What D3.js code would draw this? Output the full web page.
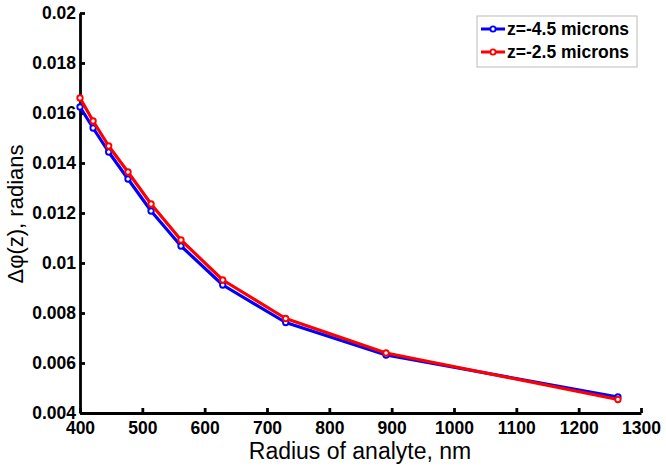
<!DOCTYPE html>
<html><head><meta charset="utf-8">
<script src="https://cdn.jsdelivr.net/npm/d3@7/dist/d3.min.js"></script>
<style>body{margin:0;background:#fff}svg{display:block;font-family:"Liberation Sans",Arial,sans-serif}</style>
</head><body><svg id="c" width="666" height="466"></svg>
<script>
const radius = [400, 421, 446, 477, 514, 562, 629, 730, 891, 1263];
const seriesA = [0.01624, 0.0154, 0.01444, 0.01336, 0.01208, 0.01068, 0.00912, 0.00762, 0.00632, 0.00464];
const seriesB = [0.0166, 0.01568, 0.01468, 0.01364, 0.01236, 0.01092, 0.00932, 0.00778, 0.0064, 0.00454];
const seriesNames = ["z=-4.5 microns", "z=-2.5 microns"];
const seriesColors = ["#0000ff", "#ff0000"];
const xTicks = [400, 500, 600, 700, 800, 900, 1000, 1100, 1200, 1300];
const yTicks = [0.004, 0.006, 0.008, 0.01, 0.012, 0.014, 0.016, 0.018, 0.02];

const svg = d3.select("#c");
const x = d3.scaleLinear().domain([400, 1300]).range([80, 641]);
const y = d3.scaleLinear().domain([0.004, 0.02]).range([413, 13]);

const xAxis = svg.append("g").attr("transform", "translate(0,413)")
  .call(d3.axisBottom(x).tickValues(xTicks).tickSizeInner(-5).tickSizeOuter(0).tickPadding(9).tickFormat(d3.format("d")));
const yAxis = svg.append("g").attr("transform", "translate(80,0)")
  .call(d3.axisLeft(y).tickValues(yTicks).tickSizeInner(-5).tickSizeOuter(0).tickPadding(4).tickFormat(d => String(+d.toFixed(3))));
[xAxis, yAxis].forEach(g => {
  g.select(".domain").attr("stroke", "#000").attr("stroke-width", 2.8);
  g.selectAll(".tick line").attr("stroke", "#000").attr("stroke-width", 2.8);
  g.selectAll(".tick text").attr("fill", "#000").attr("font-size", 17.5).attr("font-weight", "bold")
    .attr("font-family", '"Liberation Sans",Arial,sans-serif');
});
yAxis.selectAll(".tick text").attr("dy", "0.34em");

const data = [seriesA, seriesB];
const line = d3.line().x((d, i) => x(radius[i])).y(d => y(d));
data.forEach((s, k) => {
  svg.append("path").datum(s).attr("d", line).attr("fill", "none")
    .attr("stroke", seriesColors[k]).attr("stroke-width", 3.2).attr("stroke-linejoin", "round");
  svg.append("g").selectAll("circle").data(s).join("circle")
    .attr("cx", (d, i) => x(radius[i])).attr("cy", d => y(d)).attr("r", 2.7)
    .attr("fill", "#fff").attr("stroke", seriesColors[k]).attr("stroke-width", 1.9);
});

// legend
const lg = svg.append("g");
lg.append("rect").attr("x", 477).attr("y", 16).attr("width", 160).attr("height", 51)
  .attr("fill", "#fff").attr("stroke", "#bbb").attr("stroke-width", 1);
seriesNames.forEach((n, k) => {
  const yy = 29 + k * 23;
  lg.append("line").attr("x1", 481).attr("x2", 505).attr("y1", yy).attr("y2", yy)
    .attr("stroke", seriesColors[k]).attr("stroke-width", 3);
  lg.append("circle").attr("cx", 493).attr("cy", yy).attr("r", 2.6).attr("fill", "#fff")
    .attr("stroke", seriesColors[k]).attr("stroke-width", 1.8);
  lg.append("text").attr("x", 507).attr("y", yy).attr("dy", "0.35em").attr("font-size", 17.5)
    .attr("font-weight", "bold").text(n);
});

svg.append("text").attr("x", 360).attr("y", 459).attr("text-anchor", "middle")
  .attr("font-size", 23).text("Radius of analyte, nm");
svg.append("text").attr("transform", "translate(23,214) rotate(-90)").attr("text-anchor", "middle")
  .attr("font-size", 22).text("Δφ(z), radians");
</script></body></html>
